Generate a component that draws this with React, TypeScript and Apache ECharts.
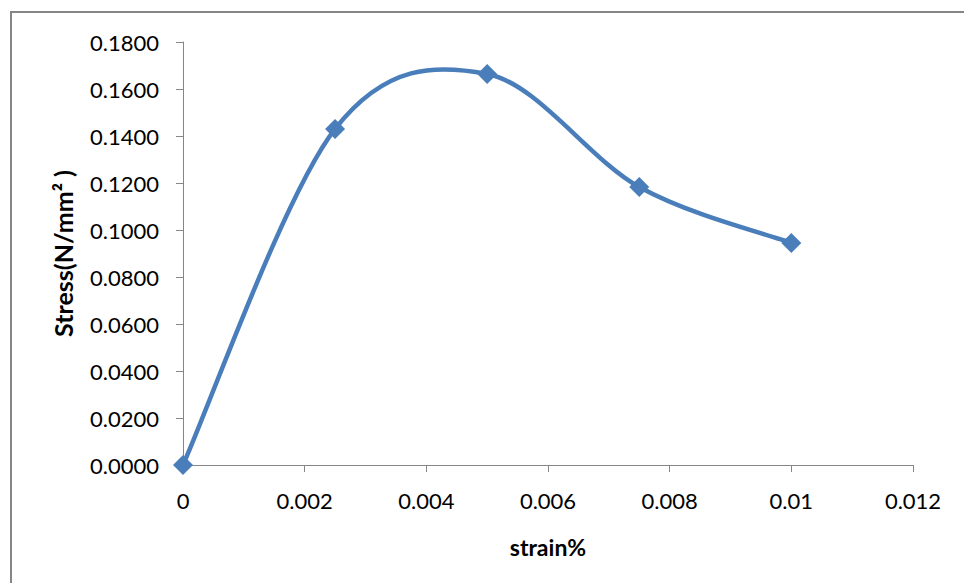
import React, { useEffect, useRef } from "react";
import * as echarts from "echarts";

// Stress–strain readings
const strain = [0, 0.0025, 0.005, 0.0075, 0.01];
const stress = [0.0, 0.143, 0.1664, 0.1183, 0.0945];

const xTicks = { min: 0, max: 0.012, interval: 0.002 };
const yTicks = { min: 0, max: 0.18, interval: 0.02 };

const LINE_BLUE = "#4A7EBB";
const AXIS_GRAY = "#868686";
const FONT = "Lato, 'Open Sans', sans-serif";

const points = strain.map((s, i) => [s, stress[i]]);

// Smoothed connector: Catmull-Rom style cubic segment between point i and i+1,
// with control points derived from the neighbouring points in pixel space.
function renderSegment(params: any, api: any) {
  const i = params.dataIndex;
  const n = points.length;
  if (i >= n - 1) return null;
  const p = (k: number) => api.coord(points[Math.max(0, Math.min(n - 1, k))]);
  const p0 = p(i - 1);
  const p1 = p(i);
  const p2 = p(i + 1);
  const p3 = p(i + 2);
  const t = 1 / 6;
  return {
    type: "bezierCurve",
    shape: {
      x1: p1[0],
      y1: p1[1],
      x2: p2[0],
      y2: p2[1],
      cpx1: p1[0] + (p2[0] - p0[0]) * t,
      cpy1: p1[1] + (p2[1] - p0[1]) * t,
      cpx2: p2[0] - (p3[0] - p1[0]) * t,
      cpy2: p2[1] - (p3[1] - p1[1]) * t,
    },
    style: { stroke: LINE_BLUE, lineWidth: 4.5, fill: "none", lineCap: "round" },
  };
}

export default function App() {
  const ref = useRef<HTMLDivElement>(null);

  useEffect(() => {
    if (!ref.current) return;
    const chart = echarts.init(ref.current, undefined, { renderer: "svg" });
    chart.setOption({
      animation: false,
      backgroundColor: "#ffffff",
      graphic: [
        {
          type: "rect",
          shape: { x: 11, y: 12, width: 1000, height: 620 },
          style: { fill: "none", stroke: AXIS_GRAY, lineWidth: 2 },
          silent: true,
        },
      ],
      grid: { left: 183, right: 51, top: 42, bottom: 118, containLabel: false },
      xAxis: {
        type: "value",
        min: xTicks.min,
        max: xTicks.max,
        interval: xTicks.interval,
        name: "strain%",
        nameLocation: "middle",
        nameGap: 70,
        nameTextStyle: { fontFamily: FONT, fontSize: 23, fontWeight: "bold", color: "#000" },
        axisLine: { show: true, onZero: false, lineStyle: { color: AXIS_GRAY, width: 1 } },
        axisTick: { show: true, inside: false, length: 7, lineStyle: { color: AXIS_GRAY } },
        splitLine: { show: false },
        axisLabel: {
          fontFamily: FONT,
          fontSize: 22,
          color: "#000",
          margin: 24,
          formatter: (v: number) => String(parseFloat(v.toFixed(4))),
        },
      },
      yAxis: {
        type: "value",
        min: yTicks.min,
        max: yTicks.max,
        interval: yTicks.interval,
        name: "Stress(N/mm\u00B2 )",
        nameLocation: "middle",
        nameGap: 108,
        nameRotate: 90,
        nameTextStyle: { fontFamily: FONT, fontSize: 25, fontWeight: "bold", color: "#000" },
        axisLine: { show: true, lineStyle: { color: AXIS_GRAY, width: 1 } },
        axisTick: { show: true, inside: false, length: 7, lineStyle: { color: AXIS_GRAY } },
        splitLine: { show: false },
        axisLabel: {
          fontFamily: FONT,
          fontSize: 22,
          color: "#000",
          margin: 24,
          formatter: (v: number) => v.toFixed(4),
        },
      },
      series: [
        {
          type: "custom",
          renderItem: renderSegment,
          data: points,
          encode: { x: 0, y: 1 },
          z: 2,
          silent: true,
        },
        {
          type: "scatter",
          data: points,
          symbol: "diamond",
          symbolSize: 20,
          itemStyle: { color: LINE_BLUE, opacity: 1 },
          z: 3,
        },
      ],
    });
    return () => chart.dispose();
  }, []);

  return (
    <div
      ref={ref}
      style={{ position: "absolute", left: 0, top: 0, width: 964, height: 583 }}
    />
  );
}
